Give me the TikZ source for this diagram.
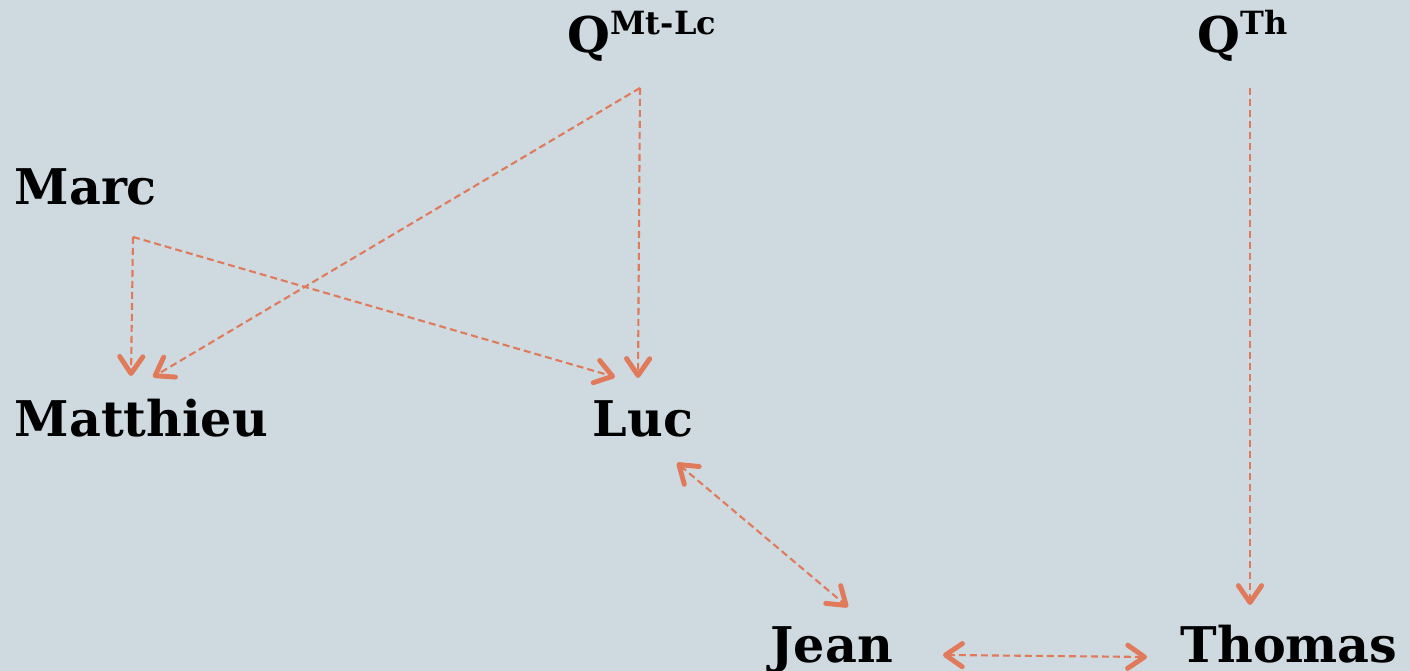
\documentclass[tikz,border=0pt]{standalone}
\usepackage{fontspec}
\setmainfont{DejaVu Serif}
\usepackage{tikz}
\usetikzlibrary{arrows.meta}
\usetikzlibrary{positioning}
\usetikzlibrary{calc}
\definecolor{colorBG}{HTML}{CEDAE0}
\definecolor{colorLink}{HTML}{E07A5A}
\newcommand{\qlab}[1]{Q\raisebox{5.2pt}{\fontsize{9.1}{10}\selectfont #1}}
\tikzset{
   every path/.style={>={Straight Barb[length=4.8pt,width=6.6pt,line width=1.4pt,round]}},
   person/.style={inner sep=0pt,anchor=base west,font=\bfseries\fontsize{14}{16}\selectfont},
   link/.style={->,color=colorLink,line width=0.6pt,dash pattern=on 0.7mm off 0.4mm},
   blink/.style={<->,color=colorLink,line width=0.6pt,dash pattern=on 0.7mm off 0.4mm},
}

\begin{document}
\begin{tikzpicture}[x=1cm,y=1cm]

  \fill[colorBG] (0,0) rectangle (14.10,6.71);
  \useasboundingbox (0,0) rectangle (14.10,6.71);

  \node[person] (qmtlc)  at (5.67, 6.18)  {\qlab{Mt-Lc}};
  \node[person] (qth)    at (11.97, 6.18) {\qlab{Th}};

  \node[person] (marc)   at (0.14, 4.66)  {Marc};
  \node[person] (mat)    at (0.14, 2.34)  {Matthieu};
  \node[person] (luc)    at (5.92, 2.34)  {Luc};
  \node[person] (jean)   at (7.70, 0.08)  {Jean};
  \node[person] (thomas) at (11.80, 0.08) {Thomas};

  \coordinate (marcout) at (1.33, 4.34);
  \coordinate (qout)    at (6.40, 5.83);
  \coordinate (thout)   at (12.50, 5.83);

  \coordinate (matinm)  at (1.31, 2.95);
  \coordinate (matinq)  at (1.53, 2.94);
  \coordinate (lucinm)  at (6.15, 2.94);
  \coordinate (lucinq)  at (6.38, 2.93);
  \coordinate (lucsj)   at (6.77, 2.08);
  \coordinate (jeannl)  at (8.48, 0.64);
  \coordinate (jeanet)  at (9.43, 0.16);
  \coordinate (thomwj)  at (11.47, 0.14);
  \coordinate (thomnq)  at (12.50, 0.66);

  \draw[link] (marcout) -- (matinm);
  \draw[link] (marcout) -- (lucinm);
  \draw[link] (qout)    -- (matinq);
  \draw[link] (qout)    -- (lucinq);
  \draw[link] (thout)   -- (thomnq);

  \draw[blink] (lucsj)  -- (jeannl);
  \draw[blink] (jeanet) -- (thomwj);

\end{tikzpicture}
\end{document}
